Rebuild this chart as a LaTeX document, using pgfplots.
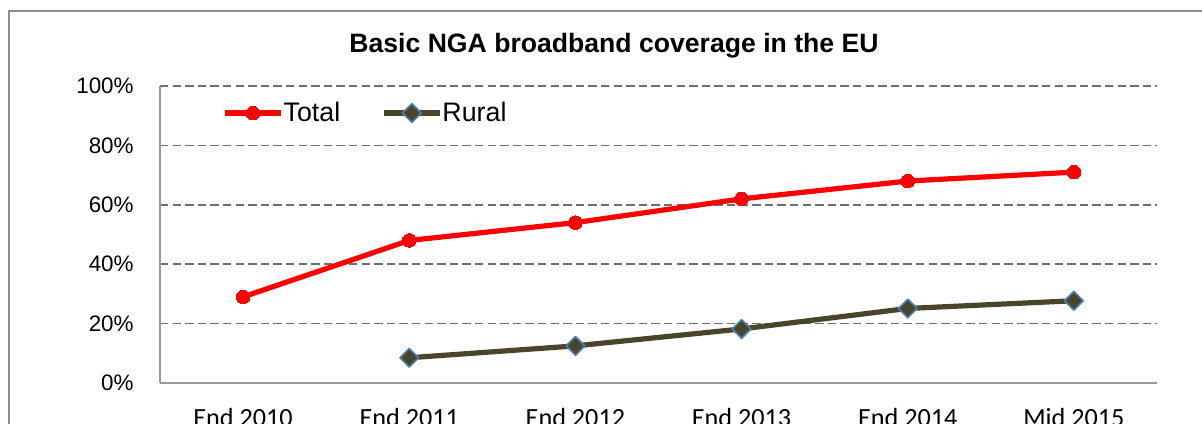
\documentclass[border=0pt]{standalone}
\usepackage{fontspec}
\setmainfont{Liberation Sans}
\newfontfamily\carlito{Carlito}
\usepackage{pgfplots}
\pgfplotsset{compat=1.18}
\definecolor{totalred}{HTML}{FF0000}
\definecolor{ruralc}{HTML}{4A452A}
\definecolor{ruraledge}{HTML}{4A7EBB}
\definecolor{gridc}{HTML}{6E6E6E}
\definecolor{axisc}{HTML}{9A9A9A}
\definecolor{framec}{HTML}{8C8C8C}
\begin{document}
\begin{tikzpicture}
\useasboundingbox (0,0) rectangle (601pt,-211.5pt);
\clip (0,0) rectangle (601pt,-211.5pt);
\draw[framec, line width=0.6pt] (4.5pt,-5.5pt) rectangle (700pt,-400pt);
\node[anchor=base, inner sep=0pt, font=\fontsize{13.3}{16}\selectfont\bfseries] at (307pt,-26pt) {Basic NGA broadband coverage in the EU};
\begin{axis}[
  at={(80pt,-191.5pt)}, anchor=south west,
  scale only axis, width=498.5pt, height=148.5pt,
  xmin=-0.5, xmax=5.5, ymin=0, ymax=100,
  xtick={0,1,2,3,4,5},
  xticklabels={End 2010, End 2011, End 2012, End 2013, End 2014, Mid 2015},
  ytick={0,20,40,60,80,100},
  yticklabels={0\%,20\%,40\%,60\%,80\%,100\%},
  axis x line*=bottom, axis y line*=left,
  axis line style={axisc, line width=0.75pt},
  major tick length=0pt,
  ymajorgrids,
  major grid style={gridc, line width=0.85pt, dash pattern=on 4.2pt off 2.1pt},
  yticklabel style={font=\fontsize{11.2}{13}\selectfont, inner sep=0pt, anchor=east, xshift=-13pt},
  xticklabel style={font=\carlito\fontsize{13.1}{15}\selectfont, inner sep=0pt, anchor=north, yshift=-12.5pt},
  clip=false,
  legend columns=2,
  legend style={draw=none, fill=none, at={(rel axis cs:0.0622,0.909)}, anchor=west, inner sep=0pt,
    font=\fontsize{13.4}{15}\selectfont, nodes={inner xsep=0pt, inner ysep=2pt},
    /tikz/every even column/.append style={column sep=20.5pt}},
  legend image code/.code={\draw[mark repeat=2, mark phase=2, #1] plot coordinates {(0pt,0pt) (14pt,0pt) (28pt,0pt)};},
]
\addplot[totalred, line width=2.6pt, line join=round, mark=*, mark size=3.4pt,
  mark options={solid, fill=totalred, draw=totalred, line width=0pt}]
  coordinates {(0,29) (1,48) (2,54) (3,62) (4,68) (5,71)};
\addlegendentry{Total}
\addplot[ruralc, line width=2.6pt, line join=round, mark=square*, mark size=3.3pt,
  mark options={solid, rotate=45, fill=ruralc, draw=ruraledge, line width=0.8pt}]
  coordinates {(1,8.5) (2,12.5) (3,18.2) (4,25.1) (5,27.7)};
\addlegendentry{Rural}
\end{axis}
\end{tikzpicture}
\end{document}
